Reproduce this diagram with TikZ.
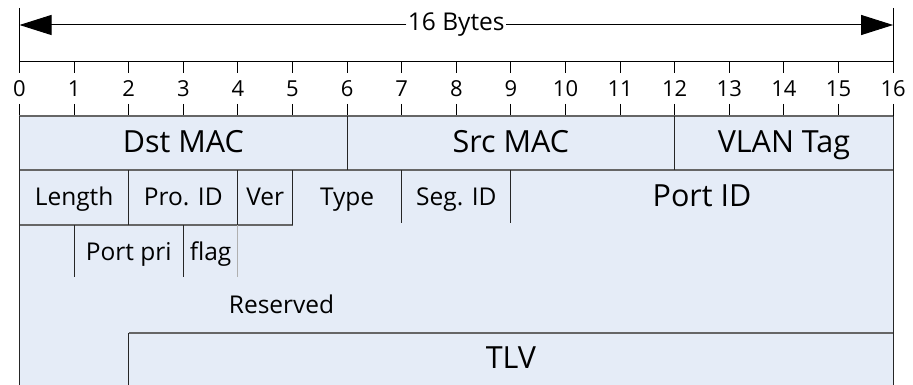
\documentclass[tikz,border=0pt]{standalone}
\usepackage{fontspec}
\setmainfont{Open Sans}
\usetikzlibrary{arrows.meta}
\definecolor{fieldfill}{HTML}{E5ECF7}
\definecolor{linegray}{HTML}{666666}
\definecolor{lightline}{HTML}{B0B0B0}
\begin{document}
\begin{tikzpicture}[x=54.6pt,y=-1pt,
  big/.style={font=\fontsize{30.5}{32}\selectfont, inner sep=0pt, anchor=base},
  mid/.style={font=\fontsize{24.5}{27}\selectfont, inner sep=0pt, anchor=base},
  num/.style={font=\fontsize{22}{24}\selectfont, inner sep=0pt, anchor=base},
  rulel/.style={draw=black, line width=1pt},
  border/.style={draw=linegray, line width=1.3pt},
  divider/.style={draw=black!85, line width=1pt},
  faint/.style={draw=lightline, line width=1pt},
  dimtip/.style={-{Triangle[length=32pt,width=20pt]}}]
\useasboundingbox (-0.35714,0) rectangle (16.36447,385);
% dimension line
\coordinate (L) at (0,25);
\coordinate (R) at (16,25);
\node[font=\fontsize{24.5}{27}\selectfont, fill=white, inner sep=1.5pt] (bytes) at (8,25) {16 Bytes};
\draw[rulel, dimtip] (bytes.west) -- (L);
\draw[rulel, dimtip] (bytes.east) -- (R);
\draw[rulel] (0,8) -- (0,62);
\draw[rulel] (16,8) -- (16,62);
% ruler
\draw[rulel] (0,62) -- (16,62);
\foreach \i in {0,...,16} {
  \draw[rulel] (\i,62) -- (\i,73);
  \node[num] (n\i) at (\i,97) {\i};
  \draw[rulel] (\i,104) -- (\i,116);
}
% fields background
\fill[fieldfill] (0,116) rectangle (16,385);
% horizontal borders
\draw[border] (0,116) -- (16,116);
\draw[border] (0,170) -- (16,170);
\draw[border] (0,225) -- (5,225);
\draw[border] (2,333) -- (16,333);
% vertical dividers
\draw[divider] (0,116) -- (0,385);
\draw[divider] (16,116) -- (16,385);
\draw[divider] (6,116) -- (6,170);
\draw[divider] (12,116) -- (12,170);
\draw[divider] (2,170) -- (2,225);
\draw[divider] (4,170) -- (4,225);
\draw[divider] (5,170) -- (5,225);
\draw[divider] (7,170) -- (7,223);
\draw[divider] (9,170) -- (9,223);
\draw[divider] (1,225) -- (1,277);
\draw[divider] (3,225) -- (3,277);
\draw[faint] (4,225) -- (4,277);
\draw[divider] (2,333) -- (2,385);
% labels
\node[big] (dst) at (3,153) {Dst MAC};
\node[big] (src) at (9,153) {Src MAC};
\node[big] (vlan) at (14,153) {VLAN Tag};
\node[mid] (len) at (1,205) {Length};
\node[mid] (pro) at (3,205) {Pro. ID};
\node[mid] (ver) at (4.5,205) {Ver};
\node[mid] (type) at (6,205) {Type};
\node[mid] (seg) at (8,205) {Seg. ID};
\node[big] (port) at (12.5,206.5) {Port ID};
\node[mid] (ppri) at (2,260) {Port pri};
\node[mid] (flag) at (3.5,260) {flag};
\node[mid] (res) at (4.8,313) {Reserved};
\node[big] (tlv) at (9,368) {TLV};
\end{tikzpicture}
\end{document}
